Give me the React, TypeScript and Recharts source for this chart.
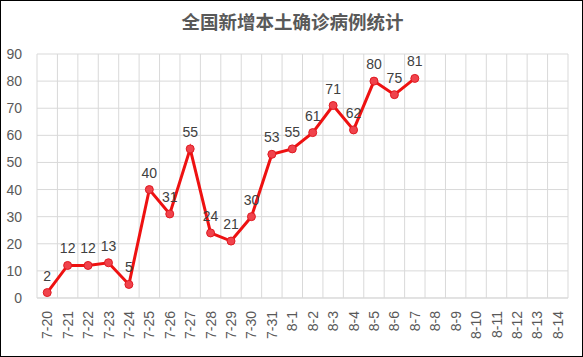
import React from 'react'
import { LineChart, Line, XAxis, YAxis, CartesianGrid, LabelList } from 'recharts'

const dates = [
  '7-20', '7-21', '7-22', '7-23', '7-24', '7-25', '7-26', '7-27', '7-28', '7-29', '7-30', '7-31',
  '8-1', '8-2', '8-3', '8-4', '8-5', '8-6', '8-7', '8-8', '8-9', '8-10', '8-11', '8-12', '8-13', '8-14',
]
const cases: (number | null)[] = [
  2, 12, 12, 13, 5, 40, 31, 55, 24, 21, 30, 53,
  55, 61, 71, 62, 80, 75, 81, null, null, null, null, null, null, null,
]
const yTicks = [0, 10, 20, 30, 40, 50, 60, 70, 80, 90]

const data = dates.map((d, i) => ({ date: d, value: cases[i] }))

const W = 583
const H = 357
const M = { top: 54, right: 15, left: 0, bottom: 0 }
const Y_W = 37
const PLOT_W = W - M.right - Y_W
const HALF_BAND = PLOT_W / dates.length / 2

function DateTick(props: any) {
  const { x, y, payload } = props
  return (
    <text
      x={x}
      y={y}
      transform={`rotate(-90, ${x}, ${y})`}
      textAnchor="end"
      dy="0.36em"
      fill="#595959"
      fontSize={14}
      fontFamily="'Liberation Sans', Arial, sans-serif"
    >
      {payload.value}
    </text>
  )
}

export default function App() {
  const font = "'Liberation Sans', Arial, sans-serif"
  return (
    <div
      style={{
        position: 'absolute',
        left: 0,
        top: 0,
        width: W,
        height: H,
        background: '#fff',
        border: '1px solid #000',
        boxSizing: 'border-box',
        overflow: 'hidden',
      }}
    >
      <div
        style={{
          position: 'absolute',
          top: 7,
          left: 0,
          width: W,
          textAlign: 'center',
          fontFamily: "'Noto Sans CJK SC', sans-serif",
          fontWeight: 700,
          fontSize: 18.5,
          color: '#595959',
          lineHeight: '26px',
        }}
      >
        全国新增本土确诊病例统计
      </div>
      <div style={{ position: 'absolute', left: -1, top: -1 }}>
        <LineChart width={W} height={H} data={data} margin={M}>
          <CartesianGrid
            stroke="#d9d9d9"
            verticalCoordinatesGenerator={({ offset }: any) => {
              const step = offset.width / dates.length
              return dates.map((_, i) => offset.left + i * step).concat(offset.left + offset.width)
            }}
          />
          <XAxis
            dataKey="date"
            interval={0}
            height={59}
            padding={{ left: HALF_BAND, right: HALF_BAND }}
            tick={<DateTick />}
            tickLine={false}
            axisLine={{ stroke: '#d9d9d9' }}
            tickMargin={7}
          />
          <YAxis
            domain={[0, 90]}
            ticks={yTicks}
            width={Y_W}
            axisLine={false}
            tickLine={false}
            tickMargin={9}
            tick={{ fill: '#595959', fontSize: 14, fontFamily: font }}
          />
          <Line
            type="linear"
            dataKey="value"
            stroke="#ee1111"
            strokeWidth={3}
            dot={{ r: 4, fill: '#f0434c', stroke: '#e01a22', strokeWidth: 1 }}
            isAnimationActive={false}
            connectNulls={false}
          >
            <LabelList
              dataKey="value"
              position="top"
              offset={12}
              fill="#404040"
              fontSize={14}
              fontFamily={font}
            />
          </Line>
        </LineChart>
      </div>
    </div>
  )
}
